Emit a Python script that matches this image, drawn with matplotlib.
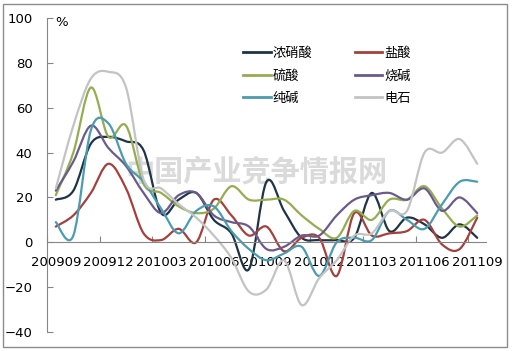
import numpy as np
import matplotlib.pyplot as plt
from matplotlib.path import Path
from matplotlib.patches import PathPatch, Rectangle
from matplotlib.lines import Line2D

plt.rcParams['font.family'] = ['DejaVu Sans', 'Noto Sans CJK SC']

# monthly growth, %
months = ['200909', '200910', '200911', '200912', '201001', '201002', '201003',
          '201004', '201005', '201006', '201007', '201008', '201009', '201010',
          '201011', '201012', '201101', '201102', '201103', '201104', '201105',
          '201106', '201107', '201108', '201109']
tick_labels = months[::3]

nitric = [19, 23, 44, 47, 45, 41, 13, 19, 22, 10, 4, -12, 27, 14, 2, 1, 1, 2, 22, 5, 11, 8, 2, 8, 2]
hcl = [7, 12, 22, 35, 24, 4, 1, 6, 0, 19, 12, 3, 7, -4, 2, 2, -15, 13, 3, 4, 5, 10, -1, -3, 11]
sulfuric = [21, 40, 69, 47, 52, 26, 22, 16, 13, 15, 25, 19, 19, 19, 12, 6, 2, 14, 10, 19, 19, 25, 15, 7, 12]
caustic = [23, 36, 52, 42, 34, 22, 13, 21, 22, 12, 9, 7, -3, -2, 3, 3, 12, 19, 21, 22, 19, 24, 14, 20, 13]
soda = [9, 3, 50, 53, 35, 27, 15, 4, 14, 16, 5, -3, -8, -5, -2, -15, 0, 2, 1, 14, 10, 6, 17, 27, 27]
carbide = [24, 52, 73, 76, 69, 28, 24, 17, 11, 3, -7, -22, -21, -8, -28, -16, -8, 3, 4, 14, 14, 40, 40, 46, 35]

names = ['浓硝酸', '盐酸', '硫酸', '烧碱', '纯碱', '电石']
series = [nitric, hcl, sulfuric, caustic, soda, carbide]
colors = ['#1f3447', '#a5403c', '#94ad4f', '#6b5a8c', '#4a9cb0', '#c3c3c3']


def smooth_path(x, y):
    # excel-like smoothed line: bezier through every point
    pts = np.column_stack([x, y]).astype(float)
    ext = np.vstack([pts[0], pts, pts[-1]])
    verts = [pts[0]]
    codes = [Path.MOVETO]
    for i in range(len(pts) - 1):
        p0, p1, p2, p3 = ext[i], ext[i + 1], ext[i + 2], ext[i + 3]
        verts += [p1 + (p2 - p0) / 6, p2 - (p3 - p1) / 6, p2]
        codes += [Path.CURVE4] * 3
    return Path(verts, codes)


fig = plt.figure(figsize=(5.13, 3.51), dpi=100)
ax = fig.add_axes([47 / 513, 19 / 351, 439 / 513, 314 / 351])

x = np.arange(len(months))
for vals, c in zip(series, colors):
    ax.add_patch(PathPatch(smooth_path(x, vals), facecolor='none', edgecolor=c,
                           lw=1.6, zorder=2, capstyle='round', joinstyle='round'))

ax.set_xlim(-0.5, len(months) - 0.5)
ax.set_ylim(-40, 100)

for s in ['top', 'right']:
    ax.spines[s].set_visible(False)
ax.spines['bottom'].set_position(('data', 0))
for s in ['left', 'bottom']:
    ax.spines[s].set_color('#868686')

ax.set_xticks(np.arange(-0.5, len(months), 3))
ax.set_xticks(x[::3], minor=True)
ax.set_xticklabels(tick_labels, minor=True, fontsize=9.5)
ax.tick_params(axis='x', which='major', direction='in', length=4,
               color='#868686', labelbottom=False)
ax.tick_params(axis='x', which='minor', length=0, pad=10)
ax.set_yticks(np.arange(-40, 101, 20))
ax.tick_params(axis='y', direction='in', length=4, color='#868686',
               labelsize=9.5, pad=10.5)

fig.text(55 / 513, 1 - 23 / 351, '%', fontsize=9.5, va='center')

# watermark
ax.text(0.5, 1 - 172 / 351, '中国产业竞争情报网', transform=fig.transFigure,
        fontsize=21, color='#dadada', family='Noto Sans CJK SC', weight='bold',
        ha='center', va='center', zorder=1)

order = [0, 2, 4, 1, 3, 5]
handles = [Line2D([], [], color=colors[i], lw=2) for i in order]
ax.legend(handles, [names[i] for i in order], ncol=2, loc='upper left',
          bbox_to_anchor=(243 / 513, 1 - 47 / 351), bbox_transform=fig.transFigure,
          frameon=False, handlelength=2.1, handletextpad=0.15, columnspacing=3.2,
          labelspacing=0.72, borderpad=0, borderaxespad=0,
          prop={'family': 'Noto Sans CJK SC', 'size': 9.5})

fig.add_artist(Rectangle((3 / 513, 4 / 351), 504 / 513, 343 / 351,
                         transform=fig.transFigure, fill=False,
                         edgecolor='#8c8c8c', lw=1))

fig.savefig('out.png', dpi=100)
